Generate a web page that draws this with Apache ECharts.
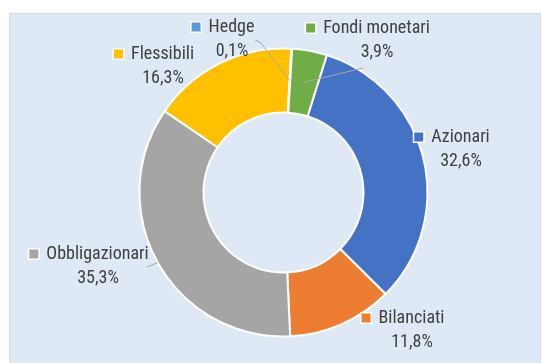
<!DOCTYPE html>
<html>
<head>
<meta charset="utf-8">
<script src="https://cdn.jsdelivr.net/npm/echarts@6/dist/echarts.min.js"></script>
<style>
  html, body { margin: 0; padding: 0; background: #ffffff; }
  #chart { width: 541px; height: 363px; }
</style>
</head>
<body>
<div id="chart"></div>
<script>
// Fund categories and their share of assets (%)
const categories = ['Azionari', 'Bilanciati', 'Obbligazionari', 'Flessibili', 'Hedge', 'Fondi monetari'];
const shares = [32.6, 11.8, 35.3, 16.3, 0.1, 3.9];
const sliceColors = ['#4472c4', '#ed7d31', '#a5a5a5', '#ffc000', '#5b9bd5', '#70ad47'];

// Ring geometry
const CX = 283.5, CY = 192.5, R_IN = 80, R_OUT = 144;
const FIRST_ANGLE = 17.5; // degrees clockwise from 12 o'clock where the first slice begins

// Label block centres; "line" gives the leader start (offset from the centre),
// an optional elbow, and the radius on the slice where the leader ends.
const labelSpots = [
  { x: 461, y: 149 },
  { x: 412, y: 330 },
  { x: 98,  y: 266, line: { from: [49, 1], ringR: R_OUT } },
  { x: 163, y: 66 },
  { x: 232, y: 39,  line: { from: [23, 1], elbow: [28, 3], ringR: (R_IN + R_OUT) / 2 } },
  { x: 377, y: 40,  line: { from: [-14, 28], ringR: (R_IN + R_OUT) / 2 } }
];

const TEXT = '#404040';
const FONT = 'Roboto, "Open Sans", sans-serif';
const FONT_SIZE = 18;

function midAngle(i) {
  let before = 0;
  for (let k = 0; k < i; k++) before += shares[k];
  const total = shares.reduce((a, b) => a + b, 0);
  return (FIRST_ANGLE + (before + shares[i] / 2) / total * 360) * Math.PI / 180;
}

const textStyle = { fontFamily: FONT, fontSize: FONT_SIZE, fontWeight: 'condensed', color: TEXT, lineHeight: 24 };
const rich = {
  nm:  Object.assign({ padding: [0, 0, 0, 8] }, textStyle),
  sp:  { width: 18, height: 10 },
  val: Object.assign({}, textStyle)
};
sliceColors.forEach((c, i) => {
  rich['sq' + i] = { width: 9, height: 9, backgroundColor: c, borderColor: '#ffffff', borderWidth: 1.5 };
});

const pieData = categories.map((name, i) => ({
  name,
  value: shares[i],
  itemStyle: { color: sliceColors[i] }
}));

// Leader lines from a label to its slice, drawn above the ring
const leaderLines = [];
labelSpots.forEach((spot, i) => {
  if (!spot.line) return;
  const a = midAngle(i);
  const pts = [[spot.x + spot.line.from[0], spot.y + spot.line.from[1]]];
  if (spot.line.elbow) pts.push([spot.x + spot.line.elbow[0], spot.y + spot.line.elbow[1]]);
  pts.push([CX + spot.line.ringR * Math.sin(a), CY - spot.line.ringR * Math.cos(a)]);
  leaderLines.push({
    type: 'polyline',
    z: 100,
    shape: { points: pts },
    style: { stroke: '#a6a6a6', lineWidth: 1, fill: null }
  });
});

const chart = echarts.init(document.getElementById('chart'), null, { renderer: 'canvas' });
chart.setOption({
  animation: false,
  backgroundColor: '#ffffff',
  graphic: [{
    type: 'rect',
    z: -10,
    shape: { x: 9.5, y: 13.5, width: 531, height: 360 },
    style: { fill: '#dee9f5', stroke: '#d6d9de', lineWidth: 1 }
  }].concat(leaderLines),
  series: [{
    type: 'pie',
    center: [CX, CY],
    radius: [R_IN, R_OUT],
    startAngle: 90 - FIRST_ANGLE,
    clockwise: true,
    avoidLabelOverlap: false,
    itemStyle: { borderColor: '#ffffff', borderWidth: 2 },
    label: {
      show: true,
      position: 'outside',
      formatter: p => '{sq' + p.dataIndex + '|}{nm|' + p.name + '}{sp|}\n{val|' +
        p.value.toFixed(1).replace('.', ',') + '%}',
      rich,
      align: 'center'
    },
    labelLine: { show: false },
    labelLayout: params => {
      const spot = labelSpots[params.dataIndex];
      return { x: spot.x, y: spot.y, align: 'center', verticalAlign: 'middle', hideOverlap: false };
    },
    emphasis: { disabled: true },
    data: pieData
  }]
});
</script>
</body>
</html>
